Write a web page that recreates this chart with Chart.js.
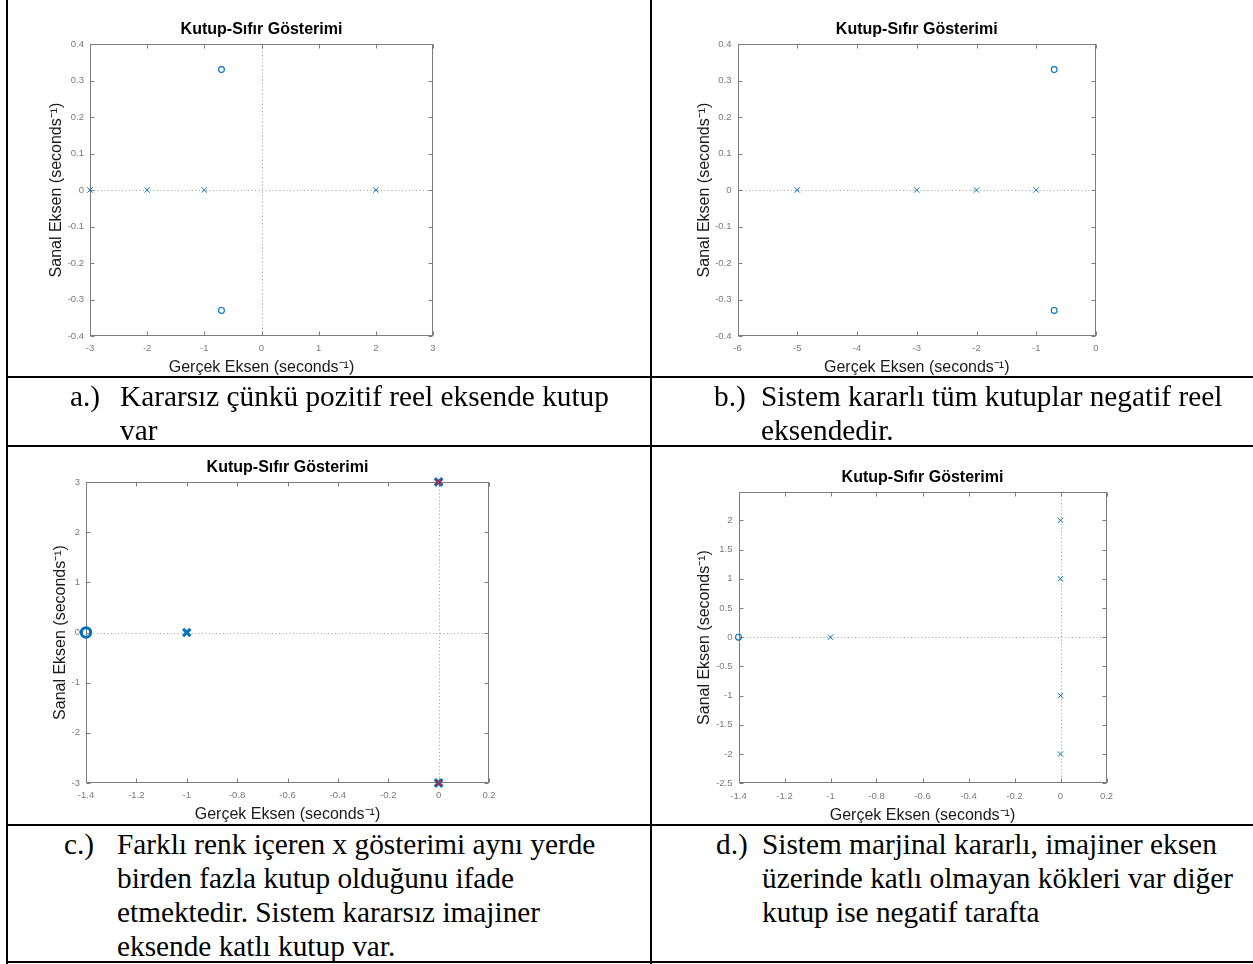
<!DOCTYPE html>
<html>
<head>
<meta charset="utf-8">
<script src="https://cdn.jsdelivr.net/npm/chart.js@4.4.1/dist/chart.umd.min.js"></script>
<style>
  body { margin: 0; background: #fff; width: 1253px; height: 964px; position: relative; overflow: hidden; }
  .ln { position: absolute; background: #000; }
  canvas { position: absolute; }
  .cap { position: absolute; font-family: "Liberation Serif", "Times New Roman", serif; font-size: 29.3px; line-height: 34px; white-space: nowrap; color: #000; }
</style>
</head>
<body>
<div class="ln" style="left:6px;top:0;width:2px;height:964px"></div>
<div class="ln" style="left:650px;top:0;width:2px;height:964px"></div>
<div class="ln" style="left:6px;top:376px;width:1247px;height:2px"></div>
<div class="ln" style="left:6px;top:445px;width:1247px;height:2px"></div>
<div class="ln" style="left:6px;top:824px;width:1247px;height:2px"></div>
<div class="ln" style="left:6px;top:961px;width:1247px;height:2px"></div>

<canvas id="pzA" width="642" height="380" style="left:8px;top:0"></canvas>
<canvas id="pzB" width="601" height="380" style="left:652px;top:0"></canvas>
<canvas id="pzC" width="642" height="380" style="left:8px;top:447px"></canvas>
<canvas id="pzD" width="601" height="380" style="left:652px;top:447px"></canvas>

<div id="caps"></div>

<script>
// --- data ---
var polesARe = [-3, -2, -1, 2];
var polesAIm = [0, 0, 0, 0];
var zerosARe = [-0.7, -0.7];
var zerosAIm = [0.33, -0.33];
var xTicksA = [-3, -2, -1, 0, 1, 2, 3];
var yTicksA = [-0.4, -0.3, -0.2, -0.1, 0, 0.1, 0.2, 0.3, 0.4];

var polesBRe = [-5, -3, -2, -1];
var polesBIm = [0, 0, 0, 0];
var zerosBRe = [-0.7, -0.7];
var zerosBIm = [0.33, -0.33];
var xTicksB = [-6, -5, -4, -3, -2, -1, 0];
var yTicksB = [-0.4, -0.3, -0.2, -0.1, 0, 0.1, 0.2, 0.3, 0.4];

var polesCRe = [-1, 0, 0, 0, 0];
var polesCIm = [0, 3, 3, -3, -3];
var zerosCRe = [-1.4];
var zerosCIm = [0];
var repeatedCRe = [0, 0];   // repeated poles, drawn in a second colour
var repeatedCIm = [3, -3];
var xTicksC = [-1.4, -1.2, -1, -0.8, -0.6, -0.4, -0.2, 0, 0.2];
var yTicksC = [-3, -2, -1, 0, 1, 2, 3];

var polesDRe = [-1, 0, 0, 0, 0];
var polesDIm = [0, 2, 1, -1, -2];
var zerosDRe = [-1.4];
var zerosDIm = [0];
var xTicksD = [-1.4, -1.2, -1, -0.8, -0.6, -0.4, -0.2, 0, 0.2];
var yTicksD = [-2.5, -2, -1.5, -1, -0.5, 0, 0.5, 1, 1.5, 2];

var chartTitle = 'Kutup-Sıfır Gösterimi';
var xTitle = 'Gerçek Eksen (seconds⁻¹)';
var yTitle = 'Sanal Eksen (seconds⁻¹)';

var captionA = ['Kararsız çünkü pozitif reel eksende kutup', 'var'];
var captionB = ['Sistem kararlı tüm kutuplar negatif reel', 'eksendedir.'];
var captionC = ['Farklı renk içeren x gösterimi aynı yerde', 'birden fazla kutup olduğunu ifade', 'etmektedir. Sistem kararsız imajiner', 'eksende katlı kutup var.'];
var captionD = ['Sistem marjinal kararlı, imajiner eksen', 'üzerinde katlı olmayan kökleri var diğer', 'kutup ise negatif tarafta'];

var BLUE = '#0072BD';
var RED = 'rgb(230, 20, 35)';
var SANS = '"Liberation Sans", Arial, Helvetica, sans-serif';

function pts(re, im) {
  return re.map(function (v, i) { return { x: v, y: im[i] }; });
}

// matlab style box, inward ticks and dotted zero lines
var matlabAxes = {
  id: 'matlabAxes',
  beforeDatasetsDraw: function (chart) {
    var ctx = chart.ctx, ca = chart.chartArea;
    var xs = chart.scales.x, ys = chart.scales.y;
    var L = Math.round(ca.left) + 0.5, R = Math.round(ca.right) - 0.5;
    var T = Math.round(ca.top) + 0.5, B = Math.round(ca.bottom) - 0.5;
    ctx.save();
    ctx.lineWidth = 1;
    ctx.strokeStyle = '#a0a0a0';
    ctx.setLineDash([1, 2.5]);
    var y0 = Math.round(ys.getPixelForValue(0)) + 0.5;
    ctx.beginPath(); ctx.moveTo(L, y0); ctx.lineTo(R, y0); ctx.stroke();
    var x0 = Math.round(xs.getPixelForValue(0)) + 0.5;
    if (x0 < R - 1) {
      ctx.beginPath(); ctx.moveTo(x0, T); ctx.lineTo(x0, B); ctx.stroke();
    }
    ctx.setLineDash([]);
    ctx.strokeStyle = '#7d7d7d';
    ctx.strokeRect(L, T, R - L, B - T);
    var tl = 4;
    ctx.beginPath();
    xs.ticks.forEach(function (t) {
      var px = Math.round(xs.getPixelForValue(t.value)) + 0.5;
      ctx.moveTo(px, B); ctx.lineTo(px, B - tl);
      ctx.moveTo(px, T); ctx.lineTo(px, T + tl);
    });
    ys.ticks.forEach(function (t) {
      var py = Math.round(ys.getPixelForValue(t.value)) + 0.5;
      ctx.moveTo(L, py); ctx.lineTo(L + tl, py);
      ctx.moveTo(R, py); ctx.lineTo(R - tl, py);
    });
    ctx.stroke();
    ctx.restore();
  }
};

function pzChart(id, o) {
  var cv = document.getElementById(id);
  var W = cv.width, H = cv.height, a = o.area;
  var lh = 19.2;
  return new Chart(cv.getContext('2d'), {
    type: 'scatter',
    data: { datasets: o.datasets },
    options: {
      responsive: false,
      animation: false,
      devicePixelRatio: 1,
      layout: { padding: { left: 0, top: 0, right: W - a.r, bottom: 0 } },
      plugins: {
        legend: { display: false },
        tooltip: { enabled: false },
        title: {
          display: true,
          text: chartTitle,
          fullSize: false,
          color: '#000',
          font: { family: SANS, size: 16, weight: 'bold', lineHeight: 1.2 },
          padding: { top: a.t - 14 - lh / 2, bottom: 14 - lh / 2 }
        }
      },
      scales: {
        x: {
          type: 'linear',
          min: o.xMin, max: o.xMax,
          afterBuildTicks: function (s) { s.ticks = o.xTicks.map(function (v) { return { value: v }; }); },
          afterFit: function (s) { s.height = H - a.b; },
          grid: { display: false, drawTicks: false },
          border: { display: false },
          ticks: {
            color: '#7a7a7a', padding: 7, maxRotation: 0, autoSkip: false,
            font: { family: SANS, size: 9.5 },
            callback: function (v) { return String(v); }
          },
          title: {
            display: true, text: xTitle, color: '#1a1a1a',
            font: { family: SANS, size: 16, lineHeight: 1.2 },
            padding: { top: 0, bottom: H - (a.b + 32) - lh / 2 }
          }
        },
        y: {
          type: 'linear',
          min: o.yMin, max: o.yMax,
          afterBuildTicks: function (s) { s.ticks = o.yTicks.map(function (v) { return { value: v }; }); },
          afterFit: function (s) { s.width = a.l; },
          grid: { display: false, drawTicks: false },
          border: { display: false },
          ticks: {
            color: '#7a7a7a', padding: 6, autoSkip: false,
            font: { family: SANS, size: 9.5 },
            callback: function (v) { return String(v); }
          },
          title: {
            display: true, text: yTitle, color: '#1a1a1a',
            font: { family: SANS, size: 16, lineHeight: 1.2 },
            padding: { top: a.l - o.yLab - lh / 2, bottom: 0 }
          }
        }
      }
    },
    plugins: [matlabAxes]
  });
}

function poleSet(data, r, w, color, order) {
  return { data: data, pointStyle: 'crossRot', pointRadius: r, pointHoverRadius: r, order: order || 0,
    borderColor: color || BLUE, backgroundColor: color || BLUE, pointBorderWidth: w, borderWidth: w, clip: false };
}
function zeroSet(data, r, w) {
  return { data: data, pointStyle: 'circle', pointRadius: r, pointHoverRadius: r,
    borderColor: BLUE, backgroundColor: 'rgba(0,0,0,0)', pointBorderWidth: w, borderWidth: w, clip: false };
}

pzChart('pzA', {
  area: { l: 82, t: 44, r: 425, b: 336 }, yLab: 33,
  xMin: -3, xMax: 3, yMin: -0.4, yMax: 0.4, xTicks: xTicksA, yTicks: yTicksA,
  datasets: [poleSet(pts(polesARe, polesAIm), 3.8, 1), zeroSet(pts(zerosARe, zerosAIm), 2.9, 1.1)]
});
pzChart('pzB', {
  area: { l: 85.5, t: 44, r: 444, b: 336 }, yLab: 33,
  xMin: -6, xMax: 0, yMin: -0.4, yMax: 0.4, xTicks: xTicksB, yTicks: yTicksB,
  datasets: [poleSet(pts(polesBRe, polesBIm), 3.8, 1), zeroSet(pts(zerosBRe, zerosBIm), 2.9, 1.1)]
});
pzChart('pzC', {
  area: { l: 78, t: 35, r: 481, b: 336 }, yLab: 25,
  xMin: -1.4, xMax: 0.2, yMin: -3, yMax: 3, xTicks: xTicksC, yTicks: yTicksC,
  // red overlay gets the lowest order so it is drawn on top of the blue marks
  datasets: [poleSet(pts(polesCRe, polesCIm), 5.2, 3), zeroSet(pts(zerosCRe, zerosCIm), 4.7, 3),
    poleSet(pts(repeatedCRe, repeatedCIm), 3.6, 1.6, RED, -1)]
});
pzChart('pzD', {
  area: { l: 86.5, t: 44.7, r: 454.5, b: 336.3 }, yLab: 34,
  xMin: -1.4, xMax: 0.2, yMin: -2.5, yMax: 2.49, xTicks: xTicksD, yTicks: yTicksD,
  datasets: [poleSet(pts(polesDRe, polesDIm), 3.8, 1), zeroSet(pts(zerosDRe, zerosDIm), 2.9, 1.1)]
});

// captions
function caption(label, lines, lx, tx, top) {
  var host = document.getElementById('caps');
  var l = document.createElement('div');
  l.className = 'cap'; l.style.left = lx + 'px'; l.style.top = top + 'px';
  l.textContent = label;
  var t = document.createElement('div');
  t.className = 'cap'; t.style.left = tx + 'px'; t.style.top = top + 'px';
  lines.forEach(function (s, i) {
    if (i) t.appendChild(document.createElement('br'));
    t.appendChild(document.createTextNode(s));
  });
  host.appendChild(l); host.appendChild(t);
}
caption('a.)', captionA, 70, 120, 379);
caption('b.)', captionB, 714, 761, 379);
caption('c.)', captionC, 64, 117, 827);
caption('d.)', captionD, 716, 762, 827);
</script>
</body>
</html>
